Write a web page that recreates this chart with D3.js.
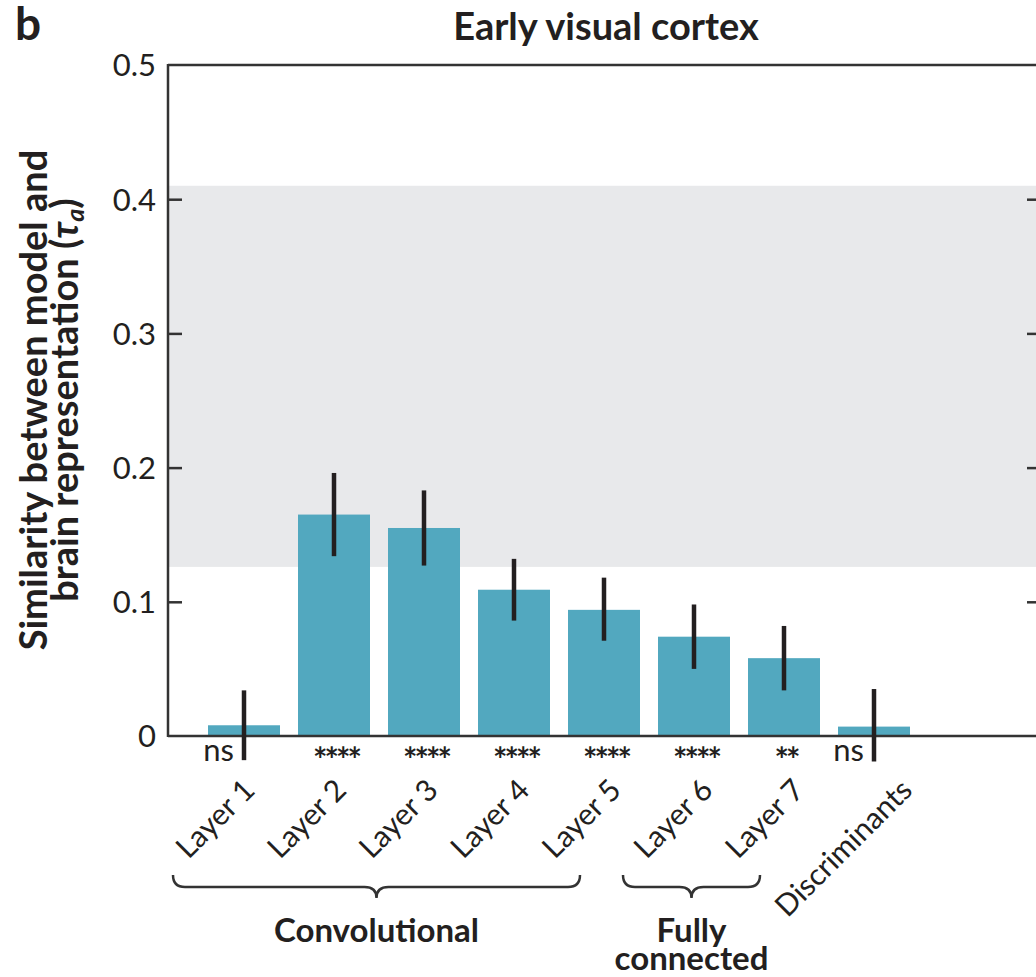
<!DOCTYPE html>
<html><head><meta charset="utf-8">
<script src="https://cdn.jsdelivr.net/npm/d3@7"></script>
<style>body{margin:0;background:#fff}svg{display:block}text{font-family:Lato,"Open Sans",sans-serif;fill:#231f20}</style>
</head><body><svg id="c" width="1036" height="977"></svg>
<script>
const categories = ["Layer 1","Layer 2","Layer 3","Layer 4","Layer 5","Layer 6","Layer 7","Discriminants"];
const meanValues = [0.008, 0.165, 0.155, 0.109, 0.094, 0.074, 0.058, 0.007];
const errLow = [-0.018, 0.134, 0.127, 0.086, 0.071, 0.050, 0.034, -0.019];
const errHigh = [0.034, 0.196, 0.183, 0.132, 0.118, 0.098, 0.082, 0.035];
const sigLabels = ["ns","****","****","****","****","****","**","ns"];
const yTicks = [0, 0.1, 0.2, 0.3, 0.4, 0.5];
const ceilingBand = [0.126, 0.410];
const groups = [{label:["Convolutional"], from:0, to:4}, {label:["Fully","connected"], from:5, to:6}];

(function(){
const svg = d3.select("#c");
const pLeft = 168, pRight = 1037, pTop = 65, pBottom = 736;
const y = d3.scaleLinear().domain([0, 0.5]).range([pBottom, pTop]);
const x = d3.scaleBand().domain(categories).range([199, 919]).paddingInner(0.2).paddingOuter(0.1);
const cx = d => x(d) + x.bandwidth() / 2;

// ceiling band
svg.append("rect").attr("x", pLeft).attr("width", pRight - pLeft)
  .attr("y", y(ceilingBand[1])).attr("height", y(ceilingBand[0]) - y(ceilingBand[1]))
  .attr("fill", "#e8e9eb");

// bars
svg.selectAll("rect.bar").data(categories).join("rect").attr("class","bar")
  .attr("x", d => x(d)).attr("width", x.bandwidth())
  .attr("y", (d,i) => y(meanValues[i])).attr("height", (d,i) => y(0) - y(meanValues[i]))
  .attr("fill", "#52a8bf");

// axes
const axisColor = "#333";
const gl = svg.append("g").attr("transform", `translate(${pLeft},0)`)
  .call(d3.axisLeft(y).tickValues(yTicks).tickSize(-14).tickPadding(12).tickFormat(d => d === 0 ? "0" : d3.format(".1f")(d)));
const gr = svg.append("g").attr("transform", `translate(${pRight},0)`)
  .call(d3.axisRight(y).tickValues(yTicks.filter(d => d > 0 && d < 0.5)).tickSize(-10).tickFormat(""));
[gl, gr].forEach(g => {
  g.select(".domain").remove();
  g.selectAll(".tick line").attr("stroke", axisColor).attr("stroke-width", 2.5);
});
gl.selectAll(".tick").filter(d => d === 0 || d === 0.5).select("line").remove();
gl.selectAll(".tick text").attr("font-size", 31).attr("fill", "#231f20").attr("dy", "0.35em").style("font-family", 'Lato,sans-serif');

svg.append("line").attr("x1", pLeft).attr("x2", pLeft).attr("y1", pTop - 1).attr("y2", pBottom + 1).attr("stroke", axisColor).attr("stroke-width", 2.5);
svg.append("line").attr("x1", pLeft).attr("x2", pRight).attr("y1", pTop).attr("y2", pTop).attr("stroke", axisColor).attr("stroke-width", 2.5);
svg.append("line").attr("x1", pLeft).attr("x2", pRight).attr("y1", pBottom).attr("y2", pBottom).attr("stroke", axisColor).attr("stroke-width", 2.5);

// error bars
svg.selectAll("line.err").data(categories).join("line").attr("class","err")
  .attr("x1", cx).attr("x2", cx)
  .attr("y1", (d,i) => y(errLow[i])).attr("y2", (d,i) => y(errHigh[i]))
  .attr("stroke", "#231f20").attr("stroke-width", 4.5);

// significance labels
const isNs = i => sigLabels[i] === "ns";
svg.selectAll("text.sig").data(categories).join("text").attr("class","sig")
  .attr("x", (d,i) => isNs(i) ? cx(d) - 10 : cx(d) + 2)
  .attr("y", (d,i) => isNs(i) ? 761 : 772)
  .attr("text-anchor", (d,i) => isNs(i) ? "end" : "middle")
  .attr("font-size", (d,i) => isNs(i) ? 31 : 34)
  .attr("letter-spacing", (d,i) => isNs(i) ? 0 : -3)
  .attr("font-weight", (d,i) => isNs(i) ? 400 : 700)
  .text((d,i) => sigLabels[i]);

// x tick labels rotated
svg.selectAll("text.xl").data(categories).join("text").attr("class","xl")
  .attr("transform", (d,i) => `translate(${cx(d) + (i === categories.length - 1 ? 40 : 12.5 + 1.6 * i)},792) rotate(-45)`)
  .attr("text-anchor", "end").attr("font-size", 30)
  .text(d => d);

// brackets
function bracket(x0, x1) {
  const xm = (x0 + x1) / 2, yt = 875, yh = 887, yp = 898, r = 12;
  return `M${x0},${yt} Q${x0},${yh} ${x0 + r},${yh} L${xm - r},${yh} Q${xm},${yh} ${xm},${yp} Q${xm},${yh} ${xm + r},${yh} L${x1 - r},${yh} Q${x1},${yh} ${x1},${yt}`;
}
groups.forEach(g => {
  const xa = x(categories[g.from]) - 35;
  const xb = x(categories[g.to]) + x.bandwidth() - 60;
  svg.append("path").attr("d", bracket(xa, xb)).attr("fill", "none").attr("stroke", axisColor).attr("stroke-width", 2.5);
  const t = svg.append("text").attr("y", 942).attr("text-anchor", "middle")
    .attr("font-size", 33).attr("font-weight", 700);
  g.label.forEach((l, k) => t.append("tspan").attr("x", (xa + xb)/2).attr("dy", k === 0 ? 0 : 28).text(l));
});

// title
svg.append("text").attr("x", 606).attr("y", 40).attr("text-anchor", "middle")
  .attr("font-size", 38).attr("font-weight", 700).text("Early visual cortex");
svg.append("text").attr("x", 15).attr("y", 40).attr("font-size", 46).attr("font-weight", 700).text("b");

// y label
const yl = svg.append("text").attr("transform", "translate(47,400) rotate(-90)")
  .attr("text-anchor", "middle").attr("font-size", 38).attr("font-weight", 700);
yl.append("tspan").attr("x", 0).attr("y", 0).text("Similarity between model and");
yl.append("tspan").attr("x", 0).attr("y", 31).text("brain representation (");
yl.append("tspan").attr("font-style", "italic").text("τ");
yl.append("tspan").attr("font-style", "italic").attr("font-size", 25).attr("dy", 6).text("a");
yl.append("tspan").attr("dy", -6).text(")");
})();
</script></body></html>
